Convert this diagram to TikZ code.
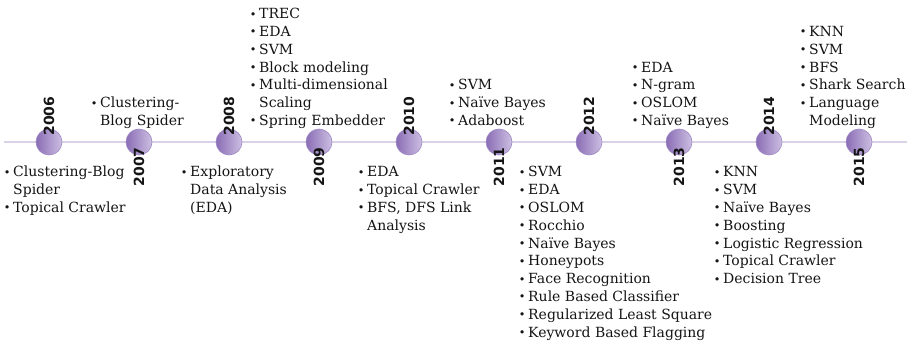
\documentclass[tikz,border=0pt]{standalone}
\usepackage{fontspec}
\setmainfont{DejaVu Serif}
\newfontfamily\yearfont{DejaVu Sans}[BoldFont={DejaVu Sans Bold}]

\definecolor{axisline}{HTML}{D9D2E8}
\definecolor{dotdark}{HTML}{8A6DB5}
\definecolor{dotlight}{HTML}{CDBFE2}
\definecolor{dotrim}{HTML}{9C88C4}
\definecolor{ink}{HTML}{141414}

% one bullet entry: bullet centred 6pt left of the text
\newcommand{\bul}{\makebox[12pt][c]{\raisebox{0.5pt}{\scalebox{0.8}{•}}}}
\newcommand{\cont}{\makebox[12pt]{}}
\newcommand{\yeartext}[1]{{\fontsize{14pt}{14pt}\selectfont\yearfont\bfseries #1}}

\tikzset{
  yeardot/.style={circle, minimum size=26pt, inner sep=0pt,
    left color=dotdark, right color=dotlight, draw=dotrim, line width=0.6pt},
  yearlabel/.style={rotate=90, inner sep=0pt, text=ink},
  itemlist/.style={inner sep=0pt, text=ink,
    font=\fontsize{14}{17.8}\selectfont},
  belowlist/.style={itemlist, anchor=north west},
  abovelist/.style={itemlist, anchor=south west},
}

\newenvironment{entries}{\begin{tabular}{@{}l@{}l@{}}}{\end{tabular}}

\begin{document}
\begin{tikzpicture}[x=1pt, y=-1pt]
\useasboundingbox (0,0) rectangle (907,342);

% time axis
\coordinate (axisstart) at (4,142);
\coordinate (axisend) at (907,142);
\draw[axisline, line width=1.6pt] (axisstart) -- (axisend);

% year markers
\foreach \i/\yr in {0/2006,1/2007,2/2008,3/2009,4/2010,5/2011,6/2012,7/2013,8/2014,9/2015}{
  \node[yeardot] (c\yr) at ({49+90*\i},142) {};
}

% year labels: even years above, odd years below
\foreach \yr in {2006,2008,2010,2012,2014}{
  \node[yearlabel, anchor=west] (y\yr) at ([yshift=-7pt]c\yr.north) {\yeartext{\yr}};
}
\foreach \yr in {2007,2009,2011,2013,2015}{
  \node[yearlabel, anchor=east] (y\yr) at ([yshift=8pt]c\yr.south) {\yeartext{\yr}};
}

% technique lists
\node[belowlist] (l2006) at (1,164.2) {\begin{entries}
\bul & Clustering-Blog\\ \cont & Spider\\ \bul & Topical Crawler
\end{entries}};

\node[abovelist] (l2007) at (88,131) {\begin{entries}
\bul & Clustering-\\ \cont & Blog Spider
\end{entries}};

\node[belowlist] (l2008) at (178,164.2) {\begin{entries}
\bul & Exploratory\\ \cont & Data Analysis\\ \cont & (EDA)
\end{entries}};

\node[abovelist] (l2009) at (247,131) {\begin{entries}
\bul & TREC\\ \bul & EDA\\ \bul & SVM\\ \bul & Block modeling\\
\bul & Multi-dimensional\\ \cont & Scaling\\ \bul & Spring Embedder
\end{entries}};

\node[belowlist] (l2010) at (355,164.2) {\begin{entries}
\bul & EDA\\ \bul & Topical Crawler\\ \bul & BFS, DFS Link\\ \cont & Analysis
\end{entries}};

\node[abovelist] (l2011) at (446,131) {\begin{entries}
\bul & SVM\\ \bul & Naïve Bayes\\ \bul & Adaboost
\end{entries}};

\node[belowlist] (l2012) at (516,164.2) {\begin{entries}
\bul & SVM\\ \bul & EDA\\ \bul & OSLOM\\ \bul & Rocchio\\ \bul & Naïve Bayes\\
\bul & Honeypots\\ \bul & Face Recognition\\ \bul & Rule Based Classifier\\
\bul & Regularized Least Square\\ \bul & Keyword Based Flagging
\end{entries}};

\node[abovelist] (l2013) at (629,131) {\begin{entries}
\bul & EDA\\ \bul & N-gram\\ \bul & OSLOM\\ \bul & Naïve Bayes
\end{entries}};

\node[belowlist] (l2014) at (711,164.2) {\begin{entries}
\bul & KNN\\ \bul & SVM\\ \bul & Naïve Bayes\\ \bul & Boosting\\
\bul & Logistic Regression\\ \bul & Topical Crawler\\ \bul & Decision Tree
\end{entries}};

\node[abovelist] (l2015) at (797,131) {\begin{entries}
\bul & KNN\\ \bul & SVM\\ \bul & BFS\\ \bul & Shark Search\\
\bul & Language\\ \cont & Modeling
\end{entries}};

\end{tikzpicture}
\end{document}
